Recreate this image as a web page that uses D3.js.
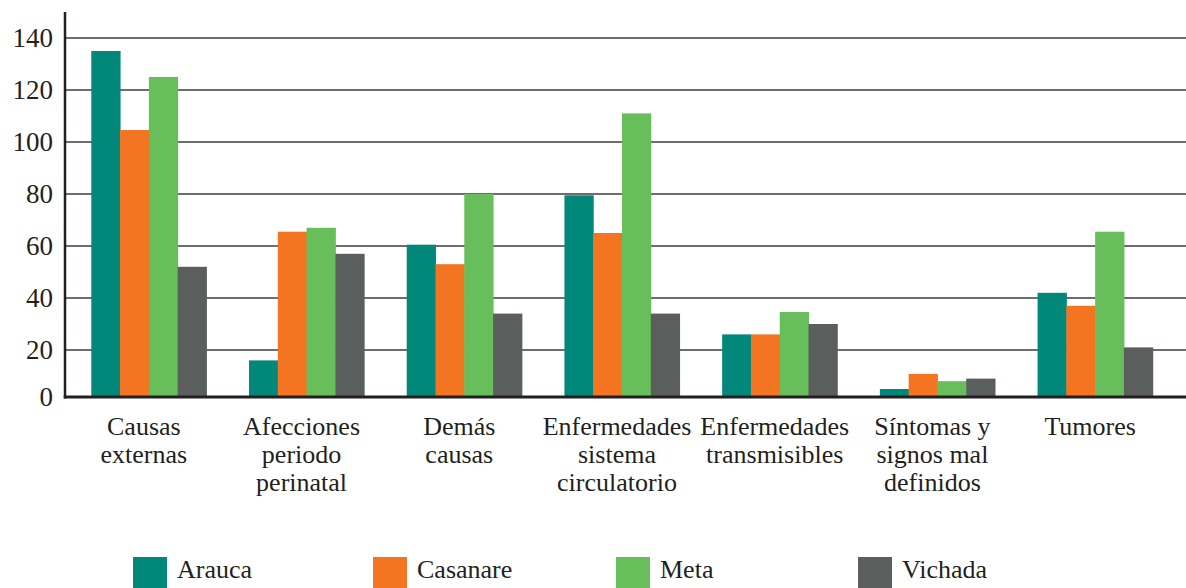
<!DOCTYPE html>
<html>
<head>
<meta charset="utf-8">
<script src="https://cdn.jsdelivr.net/npm/d3@7"></script>
<style>
  html, body { margin: 0; padding: 0; background: #fff; }
  svg { display: block; }
  svg text, svg tspan { font-family: "Liberation Serif", "Times New Roman", serif !important; }
</style>
</head>
<body>
<svg id="chart" width="1186" height="588"></svg>
<script>
const categories = [
  ["Causas", "externas"],
  ["Afecciones", "periodo", "perinatal"],
  ["Demás", "causas"],
  ["Enfermedades", "sistema", "circulatorio"],
  ["Enfermedades", "transmisibles"],
  ["Síntomas y", "signos mal", "definidos"],
  ["Tumores"]
];
const seriesNames = ["Arauca", "Casanare", "Meta", "Vichada"];
const arauca   = [135, 16, 60.5, 79.5, 26, 5, 42];
const casanare = [104.6, 65.5, 53, 65, 26, 10.8, 37];
const meta     = [125, 67, 80, 111, 34.6, 8, 65.5];
const vichada  = [52, 57, 34, 34, 30, 9, 21];
const yTicks = [0, 20, 40, 60, 80, 100, 120, 140];
const colors = ["#02877b", "#f37521", "#68be5a", "#5a5f5e"];

const series = [arauca, casanare, meta, vichada];
const FONT = "'Liberation Serif', 'Times New Roman', serif";
const INK = "#231f20";
const svg = d3.select("#chart").attr("font-family", FONT).style("font-family", FONT);

const x0 = d3.scaleBand().domain(d3.range(categories.length)).range([70, 1174])
  .paddingInner(0.27).paddingOuter(0.135);
const x1 = d3.scaleBand().domain(d3.range(seriesNames.length)).range([0, x0.bandwidth()]).padding(0);
const y = d3.scaleLinear().domain([0, 140]).range([402, 38]);
const baseY = 397;
const axisX = 65;

// gridlines
svg.append("g").selectAll("line").data(yTicks.filter(d => d > 0)).join("line")
  .attr("x1", axisX).attr("x2", 1186)
  .attr("y1", d => y(d)).attr("y2", d => y(d))
  .attr("stroke", "#6b6e6d").attr("stroke-width", 2.2);

// bars
const g = svg.append("g");
categories.forEach((c, i) => {
  series.forEach((s, j) => {
    g.append("rect")
      .attr("x", x0(i) + x1(j))
      .attr("width", x1.bandwidth() + 0.5)
      .attr("y", Math.min(y(s[i]), baseY))
      .attr("height", Math.max(0, baseY - y(s[i])))
      .attr("fill", colors[j]);
  });
});

// axes lines
svg.append("line").attr("x1", axisX).attr("x2", axisX).attr("y1", 12).attr("y2", baseY + 1.5)
  .attr("stroke", INK).attr("stroke-width", 2.5);
svg.append("line").attr("x1", axisX - 1.25).attr("x2", 1186).attr("y1", baseY).attr("y2", baseY)
  .attr("stroke", INK).attr("stroke-width", 3);

// y tick labels
svg.append("g").selectAll("text").data(yTicks).join("text")
  .attr("x", 53)
  .attr("y", d => d === 0 ? baseY : y(d))
  .attr("dy", "0.35em")
  .attr("text-anchor", "end")
  .style("font-family", FONT)
  .attr("fill", INK)
  .attr("font-size", 27)
  .text(d => d);

// category labels
categories.forEach((lines, i) => {
  const cx = x0(i) + x0.bandwidth() / 2 - 5;
  const t = svg.append("text")
    .attr("text-anchor", "middle")
    .style("font-family", FONT)
    .attr("fill", INK)
    .attr("font-size", 26)
    .attr("x", cx)
    .attr("y", 435);
  lines.forEach((l, k) => {
    t.append("tspan").attr("x", cx).attr("dy", k === 0 ? 0 : 28).text(l);
  });
});

// legend
const legX = [133, 373, 616, 858];
seriesNames.forEach((n, j) => {
  svg.append("rect").attr("x", legX[j]).attr("y", 557).attr("width", 34).attr("height", 34).attr("fill", colors[j]);
  svg.append("text").attr("x", legX[j] + 44).attr("y", 578)
    .style("font-family", FONT).attr("fill", INK).attr("font-size", 26).text(n);
});
</script>
</body>
</html>
